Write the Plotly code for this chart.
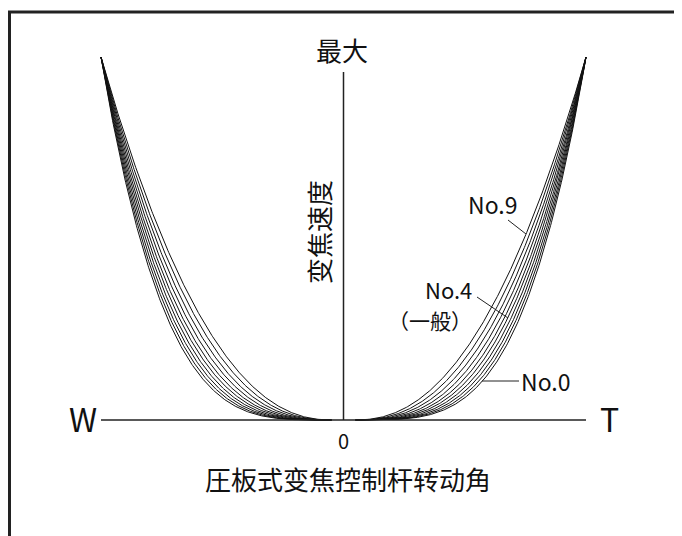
import numpy as np
import plotly.graph_objects as go

# curve family: zoom speed vs lever rotation, No.0 (slowest start) .. No.9
curve_names = ["No.0", "No.1", "No.2", "No.3", "No.4", "No.5", "No.6", "No.7", "No.8", "No.9"]
exponents = [3.74, 3.57, 3.40, 3.23, 3.06, 2.90, 2.73, 2.56, 2.39, 2.22]
dead_zone = 0.05          # curves leave the axis a little off centre
max_angle = 1.0
max_speed = 1.0

y_label_top = "最大"
y_label = "变焦速度"
x_label = "圧板式变焦控制杆转动角"
left_end = "W"
right_end = "T"
origin_label = "0"

FONT = "Noto Sans CJK JP"
W, H = 682, 536
OFF = 8                   # page body margin
CX, CY, SX, SY = 343.5, 420, 242.5, 363


def px(x):
    return (x - CX) / SX


def py(y):
    return (CY - y) / SY


fig = go.Figure()

t = np.linspace(0, 1, 300)
ang = dead_zone + (max_angle - dead_zone) * t
for name, p in zip(curve_names, exponents):
    spd = max_speed * t ** p
    xs = np.concatenate([-ang[::-1], [None], ang])
    ys = np.concatenate([spd[::-1], [None], spd])
    fig.add_trace(go.Scatter(x=xs, y=ys, mode="lines", name=name,
                             line=dict(color="#111111", width=1),
                             showlegend=False, hoverinfo="skip"))

shapes = [
    # axes
    dict(type="line", x0=-max_angle, x1=max_angle, y0=0, y1=0,
         line=dict(color="#222222", width=1.5)),
    dict(type="line", x0=0, x1=0, y0=0, y1=py(72),
         line=dict(color="#222222", width=1.5)),
    # leaders
    dict(type="line", x0=px(508), y0=py(220), x1=px(526), y1=py(234),
         line=dict(color="#222222", width=1)),
    dict(type="line", x0=px(477), y0=py(297), x1=px(508), y1=py(318),
         line=dict(color="#222222", width=1)),
    dict(type="line", x0=px(482), y0=py(381), x1=px(519), y1=py(381),
         line=dict(color="#222222", width=1)),
    # frame (top and left edges visible)
    dict(type="rect", xref="paper", yref="paper",
         x0=(9.5 - OFF) / W, x1=1.05, y0=1 - (12 - OFF) / H, y1=-0.05,
         line=dict(color="#222222", width=3)),
]


def label(text, x, y, size, angle=0):
    return dict(text=text, x=px(x), y=py(y), showarrow=False, textangle=angle,
                xanchor="center", yanchor="middle",
                font=dict(family=FONT, size=size, color="#111111"))


annotations = [
    label(y_label_top, 342, 49, 26),
    label(y_label, 318, 232, 26, -90),
    label(left_end, 83, 418, 32),
    label(right_end, 609, 418, 32),
    label(origin_label, 343, 440, 20),
    label(x_label, 348, 478, 26),
    label("No.9", 492, 204, 23),
    label("No.4", 448, 289, 22),
    label("（一般）", 430, 320, 21),
    label("No.0", 545, 381, 23),
]

fig.update_layout(
    width=W, height=H,
    margin=dict(l=0, r=0, t=0, b=0),
    paper_bgcolor="white", plot_bgcolor="white",
    shapes=shapes, annotations=annotations,
    xaxis=dict(range=[px(OFF), px(W + OFF)], visible=False, fixedrange=True),
    yaxis=dict(range=[py(H + OFF), py(OFF)], visible=False, fixedrange=True),
    showlegend=False,
)

fig.write_html("out.html")
